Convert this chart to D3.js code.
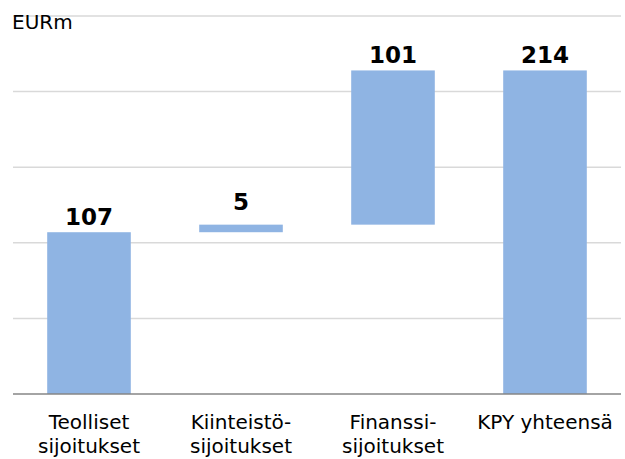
<!DOCTYPE html>
<html><head><meta charset="utf-8">
<script src="https://cdn.jsdelivr.net/npm/d3@7/dist/d3.min.js"></script>
<style>body{margin:0;background:#fff}svg{display:block}</style>
</head><body>
<script>
const categories = [["Teolliset","sijoitukset"],["Kiinteistö-","sijoitukset"],["Finanssi-","sijoitukset"],["KPY yhteensä"]];
const values = [107, 5, 101, 214];
const isTotal = [false, false, false, true];
const labels = ["107","5","101","214"];
const yTicks = [0, 50, 100, 150, 200, 250];
const unitLabel = "EURm";

const W = 625, H = 459;
const svg = d3.select("body").append("svg").attr("width", W).attr("height", H);
const x = d3.scaleBand().domain(d3.range(categories.length)).range([13, 621]).paddingInner(0.45).paddingOuter(0.225);
const y = d3.scaleLinear().domain([0, 250]).range([394, 16]);

svg.append("g").selectAll("line").data(yTicks.slice(1)).join("line")
  .attr("x1", 13).attr("x2", 621).attr("y1", d => y(d)).attr("y2", d => y(d))
  .attr("stroke", "#d9d9d9").attr("stroke-width", 1.5);

// waterfall
let cum = 0;
const bars = values.map((v, i) => {
  let lo, hi;
  if (isTotal[i]) { lo = 0; hi = v; }
  else { lo = cum; hi = cum + v; cum = hi; }
  return {i, lo, hi};
});
bars[2].hi = bars[3].hi; // rounding: last step ends at the total

svg.append("g").selectAll("rect").data(bars).join("rect")
  .attr("x", d => x(d.i)).attr("width", x.bandwidth())
  .attr("y", d => y(d.hi)).attr("height", d => y(d.lo) - y(d.hi))
  .attr("fill", "#8FB4E3");

svg.append("g").selectAll("text").data(bars).join("text")
  .attr("x", d => x(d.i) + x.bandwidth()/2)
  .attr("y", d => y(d.hi) - ((y(d.lo) - y(d.hi)) < 20 ? 15 : 7.5))
  .attr("text-anchor", "middle").attr("font-family", "DejaVu Sans").attr("font-weight", "bold")
  .attr("font-size", 23).attr("fill", "#000").text(d => labels[d.i]);

svg.append("line").attr("x1", 13).attr("x2", 621).attr("y1", y(0)).attr("y2", y(0))
  .attr("stroke", "#868686").attr("stroke-width", 1.5);

const cat = svg.append("g").selectAll("text").data(categories).join("text")
  .attr("x", (d, i) => x(i) + x.bandwidth()/2).attr("y", 429)
  .attr("text-anchor", "middle").attr("font-family", "DejaVu Sans").attr("font-size", 20).attr("fill", "#000");
cat.selectAll("tspan").data(d => d).join("tspan")
  .attr("x", function(){ return this.parentNode.getAttribute("x"); })
  .attr("dy", (d, j) => j === 0 ? 0 : 24).text(d => d);

svg.append("text").attr("x", 12).attr("y", 29).attr("font-family", "DejaVu Sans").attr("font-size", 20)
  .attr("fill", "#000").text(unitLabel);
</script>
</body></html>
